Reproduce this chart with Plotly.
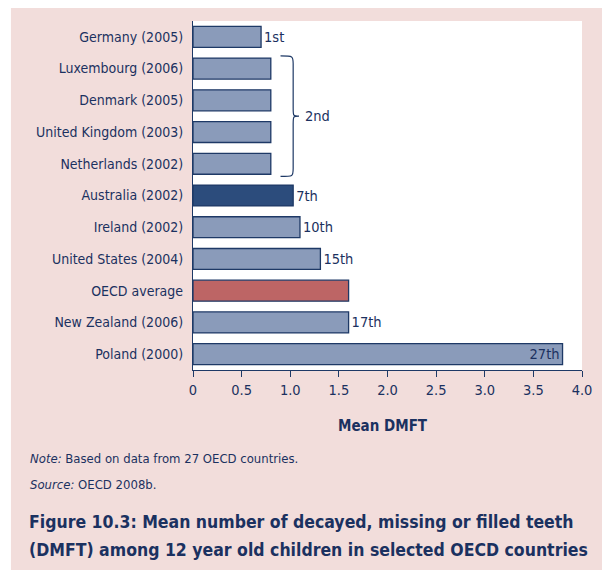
import plotly.graph_objects as go

categories = ["Germany (2005)", "Luxembourg (2006)", "Denmark (2005)", "United Kingdom (2003)",
              "Netherlands (2002)", "Australia (2002)", "Ireland (2002)", "United States (2004)",
              "OECD average", "New Zealand (2006)", "Poland (2000)"]
dmft = [0.7, 0.8, 0.8, 0.8, 0.8, 1.03, 1.1, 1.31, 1.6, 1.6, 3.8]
rank_labels = ["1st", "", "", "", "", "7th", "10th", "15th", "", "17th", "27th"]
group_label = "2nd"
group_members = ["Luxembourg (2006)", "Denmark (2005)", "United Kingdom (2003)", "Netherlands (2002)"]
x_tickvals = [0, 0.5, 1.0, 1.5, 2.0, 2.5, 3.0, 3.5, 4.0]
x_ticktext = ["0", "0.5", "1.0", "1.5", "2.0", "2.5", "3.0", "3.5", "4.0"]

NAVY = "#1B3160"
BAR = "#8A9BBA"
HIGHLIGHT = "#2C4C7C"
AVG = "#BD6565"
PINK = "#F2DDDB"
FONT = "Liberation Sans Narrow, DejaVu Sans Condensed, Arial Narrow, sans-serif"

colors = []
for c in categories:
    if c.startswith("Australia"):
        colors.append(HIGHLIGHT)
    elif c == "OECD average":
        colors.append(AVG)
    else:
        colors.append(BAR)

positions = ["inside" if c.startswith("Poland") else "outside" for c in categories]
ys = list(range(len(categories)))

fig = go.Figure(go.Bar(
    x=dmft, y=ys, orientation="h", width=0.66,
    marker=dict(color=colors, line=dict(color="#1E3966", width=1.3)),
    text=rank_labels, textposition=positions, insidetextanchor="end",
    textfont=dict(family=FONT, size=14.5, color=NAVY),
    constraintext="none", cliponaxis=False, hoverinfo="skip",
))

# brace for the group
idx = [categories.index(m) for m in group_members]
gval = max(dmft[i] for i in idx)
ytop, ybot = min(idx) - 0.4, max(idx) + 0.4
ymid = (ytop + ybot) / 2
x0, xb, xt = gval + 0.1, gval + 0.23, gval + 0.29
d = 0.25
path = (f"M {x0},{ytop} C {xb},{ytop} {xb},{ytop} {xb},{ytop + d} "
        f"L {xb},{ymid - d} C {xb},{ymid} {xb},{ymid} {xt},{ymid} "
        f"C {xb},{ymid} {xb},{ymid} {xb},{ymid + d} "
        f"L {xb},{ybot - d} C {xb},{ybot} {xb},{ybot} {x0},{ybot}")

shapes = [
    dict(type="rect", xref="paper", yref="paper", x0=-0.48, x1=-0.468, y0=-0.6, y1=1.1,
         fillcolor="white", line=dict(width=0), layer="below"),
    dict(type="rect", xref="x domain", yref="y domain", x0=0, x1=1, y0=0, y1=1,
         fillcolor="white", line=dict(width=0), layer="below"),
    dict(type="path", xref="x", yref="y", path=path, line=dict(color="#1E3966", width=1.2)),
]

annotations = [
    dict(x=xt + 0.04, y=ymid, xref="x", yref="y", text=group_label, showarrow=False,
         xanchor="left", yanchor="middle", font=dict(family=FONT, size=14.5, color=NAVY)),
    dict(x=0.488, y=-0.160, xref="paper", yref="paper", text="<b>Mean DMFT</b>", showarrow=False,
         xanchor="center", yanchor="middle", font=dict(family=FONT, size=15, color=NAVY)),
    dict(x=-0.424, y=-0.255, xref="paper", yref="paper",
         text="<i>Note:</i> Based on data from 27 OECD countries.", showarrow=False,
         xanchor="left", yanchor="middle", font=dict(family=FONT, size=13, color=NAVY)),
    dict(x=-0.424, y=-0.327, xref="paper", yref="paper",
         text="<i>Source:</i> OECD 2008b.", showarrow=False,
         xanchor="left", yanchor="middle", font=dict(family=FONT, size=13, color=NAVY)),
    dict(x=-0.427, y=-0.436, xref="paper", yref="paper",
         text="<b>Figure 10.3: Mean number of decayed, missing or filled teeth</b>",
         showarrow=False, align="left", xanchor="left", yanchor="middle",
         font=dict(family=FONT, size=17.5, color=NAVY)),
    dict(x=-0.427, y=-0.516, xref="paper", yref="paper",
         text="<b>(DMFT) among 12 year old children in selected OECD countries</b>",
         showarrow=False, align="left", xanchor="left", yanchor="middle",
         font=dict(family=FONT, size=17.5, color=NAVY)),
]

fig.update_layout(
    width=602, height=562,
    margin=dict(l=185, r=28, t=13, b=200),
    paper_bgcolor=PINK, plot_bgcolor="rgba(0,0,0,0)",
    showlegend=False, shapes=shapes, annotations=annotations,
    font=dict(family=FONT, color=NAVY),
    xaxis=dict(range=[0, 4.0], tickvals=x_tickvals, ticktext=x_ticktext, showgrid=False,
               zeroline=False, showline=True, linecolor="#1E3966", linewidth=1.2,
               ticks="outside", ticklen=6, tickcolor="#1E3966",
               tickfont=dict(family=FONT, size=14.5, color=NAVY)),
    yaxis=dict(range=[len(categories) - 0.5, -0.5], tickvals=ys, ticktext=categories,
               showgrid=False, zeroline=False, showline=True, linecolor="#1E3966",
               linewidth=1.2, ticks="", ticklabelstandoff=6,
               tickfont=dict(family=FONT, size=14, color=NAVY)),
)

fig.write_html("out.html")
